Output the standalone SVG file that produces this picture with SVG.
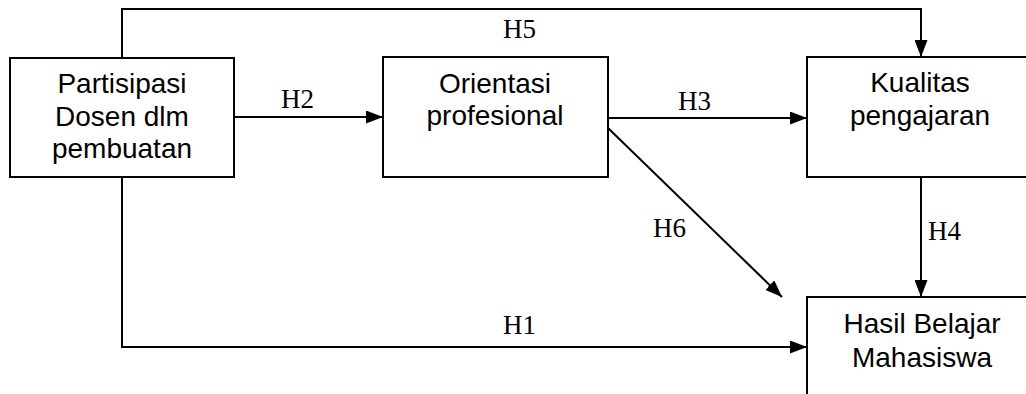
<svg xmlns="http://www.w3.org/2000/svg" width="1026" height="394" viewBox="0 0 1026 394">
  <style>
    .box { fill: #ffffff; stroke: #000000; stroke-width: 2; }
    .label { font-family: "Liberation Sans", Arial, sans-serif; font-size: 28px; fill: #000000; text-anchor: middle; }
    .hyp { font-family: "Liberation Serif", "Times New Roman", serif; font-size: 27px; fill: #000000; }
    .edge { fill: none; stroke: #000000; stroke-width: 2; }
  </style>
  <defs>
    <marker id="arrow" viewBox="0 0 17 13" refX="17" refY="6.5" markerWidth="17" markerHeight="13" markerUnits="userSpaceOnUse" orient="auto">
      <path d="M0,0 L17,6.5 L0,13 Z" fill="#000000"/>
    </marker>
  </defs>
  <rect width="1026" height="394" fill="#ffffff"/>

  <!-- connectors -->
  <g id="connectors">
    <path class="edge" d="M122,58 L122,9 L921,9 L921,57" marker-end="url(#arrow)"/>
    <path class="edge" d="M234,117 L383,117" marker-end="url(#arrow)"/>
    <path class="edge" d="M608,118 L807,118" marker-end="url(#arrow)"/>
    <path class="edge" d="M608,128 L782,297" marker-end="url(#arrow)"/>
    <path class="edge" d="M921,177 L921,297" marker-end="url(#arrow)"/>
    <path class="edge" d="M122,177 L122,347 L807,347" marker-end="url(#arrow)"/>
    <text class="hyp" x="503" y="38">H5</text>
    <text class="hyp" x="281" y="108">H2</text>
    <text class="hyp" x="678" y="110">H3</text>
    <text class="hyp" x="653" y="237">H6</text>
    <text class="hyp" x="928" y="240">H4</text>
    <text class="hyp" x="503" y="334">H1</text>
  </g>

  <g id="node-partisipasi">
    <rect class="box" x="10" y="58" width="224" height="119"/>
    <text class="label" x="122" y="93">Partisipasi</text>
    <text class="label" x="122" y="126">Dosen dlm</text>
    <text class="label" x="122" y="158">pembuatan</text>
  </g>

  <g id="node-orientasi">
    <rect class="box" x="383" y="57" width="225" height="120"/>
    <text class="label" x="495" y="93">Orientasi</text>
    <text class="label" x="495" y="125">profesional</text>
  </g>

  <g id="node-kualitas">
    <rect class="box" x="807" y="57" width="230" height="120"/>
    <text class="label" x="920" y="92">Kualitas</text>
    <text class="label" x="920" y="125">pengajaran</text>
  </g>

  <g id="node-hasil">
    <rect class="box" x="807" y="297" width="230" height="110"/>
    <text class="label" x="922" y="333">Hasil Belajar</text>
    <text class="label" x="922" y="367">Mahasiswa</text>
  </g>
</svg>
